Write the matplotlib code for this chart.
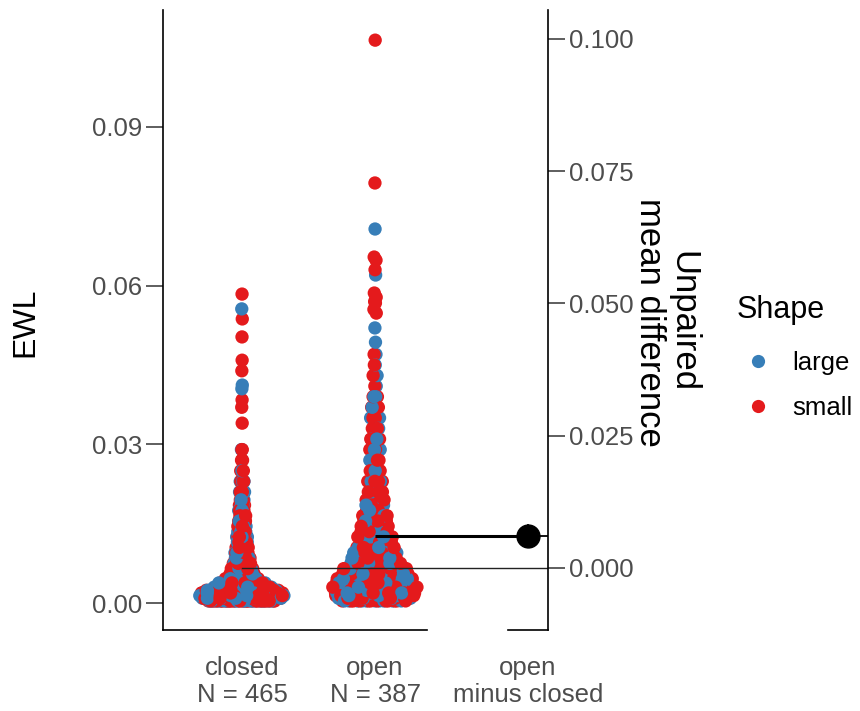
import numpy as np
import matplotlib
matplotlib.use('Agg')
import matplotlib.pyplot as plt
from matplotlib.lines import Line2D
from matplotlib.ticker import FormatStrFormatter

plt.rcParams['font.family'] = ['Liberation Sans', 'DejaVu Sans']

# EWL values read off the swarm: dense part as value bins with counts per shape,
# the sparse upper points one by one
closed_bins = [0.0004, 0.0009, 0.0014, 0.0019, 0.0024, 0.0030, 0.0038, 0.0046, 0.0055, 0.0065,
               0.0075, 0.0085, 0.0095, 0.0105, 0.0115, 0.0125, 0.0135, 0.0145, 0.0155, 0.0165,
               0.0175, 0.0185, 0.0195, 0.021, 0.023, 0.025, 0.027, 0.029]
closed_large = [23, 26, 22, 18, 14, 11, 9, 8, 7, 7, 6, 5, 5, 4, 4, 3, 3, 3, 3, 2, 2, 2, 2, 3, 4, 1, 1, 1]
closed_small = [28, 32, 28, 22, 16, 14, 11, 10, 10, 9, 8, 7, 6, 6, 5, 5, 4, 4, 3, 4, 3, 3, 2, 5, 4, 2, 2, 2]
closed_tail = [0.034, 0.037, 0.0384, 0.0405, 0.0412, 0.0439, 0.0459, 0.0503, 0.0537, 0.0556, 0.0584]
closed_tail_shape = ['small', 'small', 'small', 'large', 'large', 'small', 'small', 'small',
                     'small', 'large', 'small']

open_bins = [0.0004, 0.0009, 0.0014, 0.0019, 0.0024, 0.0030, 0.0038, 0.0046, 0.0055, 0.0065,
             0.0075, 0.0085, 0.0095, 0.0105, 0.0115, 0.0125, 0.0135, 0.0145, 0.0155, 0.0165,
             0.0175, 0.0185, 0.0195, 0.021, 0.023, 0.025, 0.027, 0.029, 0.031, 0.033,
             0.035, 0.037, 0.039, 0.041, 0.043, 0.045, 0.047]
open_large = [10, 12, 12, 10, 8, 8, 8, 7, 7, 6, 6, 5, 5, 4, 4, 4, 4, 3, 3, 3,
              3, 2, 2, 3, 3, 3, 3, 2, 3, 2, 2, 2, 2, 1, 1, 1, 1]
open_small = [12, 14, 14, 12, 9, 10, 10, 9, 8, 8, 7, 7, 6, 6, 5, 5, 4, 5, 4, 4,
              3, 4, 3, 5, 4, 4, 3, 4, 3, 3, 3, 3, 2, 1, 1, 1, 1]
open_tail = [0.0493, 0.052, 0.0548, 0.0555, 0.0567, 0.057, 0.0578, 0.0586, 0.062, 0.063,
             0.0648, 0.0654, 0.0707, 0.0794, 0.1064]
open_tail_shape = ['large', 'large', 'small', 'small', 'small', 'small', 'small', 'small',
                   'large', 'small', 'small', 'small', 'large', 'small', 'small']

# bootstrap CI of the mean difference
ci_low, ci_high = 0.0039, 0.0084

tick_labels = ['closed\nN = 465', 'open\nN = 387', 'open\nminus closed']
shape_colors = {'large': '#377EB8', 'small': '#E41A1C'}


def build(bins, n_large, n_small, tail, tail_shape):
    vals = np.concatenate([np.repeat(bins, n_large), np.repeat(bins, n_small), tail])
    shape = ['large'] * sum(n_large) + ['small'] * sum(n_small) + list(tail_shape)
    return vals, np.array(shape)


def van_der_corput(n, base=2):
    out = np.zeros(n)
    for i in range(n):
        k, f, v = i + 1, 1.0 / base, 0.0
        while k > 0:
            v += f * (k % base)
            k //= base
            f /= base
        out[i] = v
    return out


def quasirandom(y, width=0.32, adjust=1.0):
    # like ggbeeswarm's offset_quasirandom
    sd = y.std(ddof=1)
    q75, q25 = np.percentile(y, [75, 25])
    bw = 0.9 * min(sd, (q75 - q25) / 1.34) * len(y) ** -0.2 * adjust
    dens = np.exp(-0.5 * ((y[:, None] - y[None, :]) / bw) ** 2).sum(1)
    dens = dens / dens.max()
    rank = np.argsort(np.argsort(y, kind='stable'), kind='stable')
    vdc = van_der_corput(len(y))
    return (vdc[rank] - 0.5) * 2 * width * dens


groups = [build(closed_bins, closed_large, closed_small, closed_tail, closed_tail_shape),
          build(open_bins, open_large, open_small, open_tail, open_tail_shape)]

fig = plt.figure(figsize=(8.6, 7.11), dpi=100)
ax = fig.add_axes([163 / 860, 1 - 630 / 711, 385 / 860, 620 / 711])
ax2 = ax.twinx()

xlo, xhi = 0.406, 3.30
delta_x = 3.15
ylo, yhi = -0.0051, 0.1121

for pos, (vals, shape) in zip([1, 2], groups):
    xs = pos + quasirandom(vals)
    cols = np.array([shape_colors[s] for s in shape])
    order = np.argsort(van_der_corput(len(vals), base=3))
    ax.scatter(xs[order], vals[order], c=cols[order], s=92, linewidths=0, zorder=2)

closed_mean = groups[0][0].mean()
open_mean = groups[1][0].mean()
delta = open_mean - closed_mean

ax.plot([1, xhi], [closed_mean, closed_mean], color='#222222', lw=1.0, zorder=3)
ax.plot([2, delta_x], [open_mean, open_mean], color='black', lw=2.2, zorder=3, solid_capstyle='butt')
ax.plot([delta_x, xhi], [open_mean, open_mean], color='black', lw=1.3, zorder=3)

ax2.vlines(delta_x, ci_low, ci_high, color='black', lw=1.2, zorder=4)
ax2.plot([delta_x], [delta], 'o', color='black', ms=16.5, zorder=5)

ax.set_xlim(xlo, xhi)
ax.set_ylim(ylo, yhi)
ax2.set_ylim(ylo - closed_mean, yhi - closed_mean)

ax.set_yticks([0, 0.03, 0.06, 0.09])
ax.yaxis.set_major_formatter(FormatStrFormatter('%.2f'))
ax2.set_yticks([0, 0.025, 0.05, 0.075, 0.1])
ax2.yaxis.set_major_formatter(FormatStrFormatter('%.3f'))
ax.set_xticks([1, 2, delta_x], labels=tick_labels)

for a in (ax, ax2):
    for s in a.spines.values():
        s.set_visible(False)
        s.set_linewidth(1.2)
    a.tick_params(axis='y', length=12, width=1.1, color='#333333', labelcolor='#4D4D4D',
                  labelsize=18.5, pad=3)
ax.spines['left'].set_visible(True)
ax.spines['bottom'].set_visible(True)
ax.spines['bottom'].set_bounds(xlo, 2.39)
ax2.spines['right'].set_visible(True)
ax2.spines['bottom'].set_visible(True)
ax2.spines['bottom'].set_bounds(3.0, xhi)
ax.tick_params(axis='x', length=0, pad=19, labelcolor='#4D4D4D', labelsize=18.5)
for t in ax.get_xticklabels():
    t.set_linespacing(1.12)

fig.text(25 / 860, 1 - 322 / 711, 'EWL', rotation=90, ha='center', va='center', fontsize=23)
fig.text(666 / 860, 1 - 322 / 711, 'Unpaired\nmean difference', rotation=-90, ha='center',
         va='center', ma='center', fontsize=25, linespacing=1.0)

fig.text(737 / 860, 1 - 310 / 711, 'Shape', ha='left', va='center', fontsize=22)
handles = [Line2D([], [], ls='', marker='o', ms=9.5, mew=0, color=shape_colors[k]) for k in ['large', 'small']]
fig.legend(handles, ['large', 'small'], loc='upper left',
           bbox_to_anchor=(737 / 860, 1 - 351 / 711), frameon=False, borderpad=0,
           fontsize=18.5, handlelength=1.6, handletextpad=0.55, labelspacing=0.8,
           borderaxespad=0)

fig.savefig('out.png', dpi=100, facecolor='white')
